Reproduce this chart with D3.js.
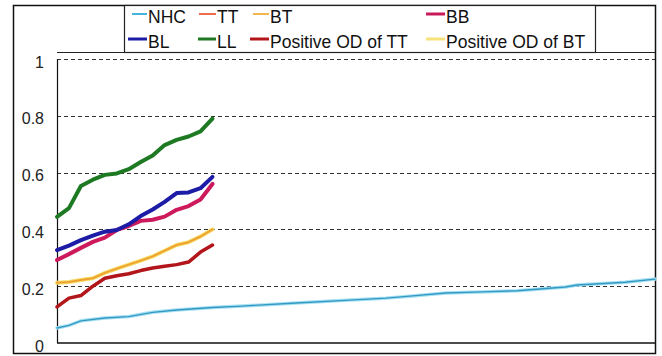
<!DOCTYPE html>
<html>
<head>
    <title></title>
    <script src="https://d3js.org/d3.v7.min.js"></script>
    <style>
        body { margin: 0; background: #fff; }
        svg { font-family: "Liberation Sans", Arial, sans-serif; }
    </style>
</head>
<body>
    <svg id="chart"></svg>
    <script>
        // values
        var tickValues = [0, 0.2, 0.4, 0.6, 0.8, 1];
        var tickLabels = ["0", "0.2", "0.4", "0.6", "0.8", "1"];

        var shortX = [0, 2, 4, 6, 8, 10, 12, 14, 16, 18, 20, 22, 24, 26];
        var llValues = [0.444, 0.475, 0.553, 0.575, 0.592, 0.597, 0.612, 0.637, 0.66, 0.697, 0.715, 0.727, 0.745, 0.79];
        var blValues = [0.327, 0.343, 0.362, 0.378, 0.392, 0.398, 0.418, 0.447, 0.47, 0.497, 0.528, 0.53, 0.545, 0.585];
        var bbValues = [0.292, 0.313, 0.335, 0.356, 0.371, 0.398, 0.412, 0.43, 0.434, 0.445, 0.469, 0.482, 0.505, 0.56];
        var btValues = [0.212, 0.215, 0.222, 0.228, 0.247, 0.262, 0.276, 0.29, 0.305, 0.325, 0.345, 0.355, 0.375, 0.4];
        var ttValues = [0.127, 0.158, 0.167, 0.2, 0.228, 0.237, 0.244, 0.255, 0.264, 0.27, 0.276, 0.285, 0.32, 0.345];

        var nhcX = [0, 2, 4, 8, 12, 16, 20, 26, 31, 40, 49, 55, 59, 65, 71, 77, 85, 87, 95, 100];
        var nhcValues = [0.053, 0.062, 0.078, 0.088, 0.093, 0.108, 0.116, 0.125, 0.13, 0.141, 0.151, 0.158, 0.165, 0.176, 0.18, 0.184, 0.197, 0.204, 0.214, 0.225];

        var width = 662;
        var height = 356;

        var svg = d3.select("#chart")
            .attr("width", width)
            .attr("height", height);

        var x = d3.scaleLinear().domain([0, 100]).range([57, 655]);
        var y = d3.scaleLinear().domain([0, 1]).range([343, 59]);

        // outer frame
        svg.append("rect")
            .attr("x", 13.5).attr("y", 5.5)
            .attr("width", 642).attr("height", 348)
            .attr("fill", "none")
            .attr("stroke", "#111")
            .attr("stroke-width", 1.5);

        // plot top border
        svg.append("line")
            .attr("x1", 57).attr("x2", 655)
            .attr("y1", 52.5).attr("y2", 52.5)
            .attr("stroke", "#222");

        // gridlines
        svg.selectAll(".grid")
            .data(tickValues.slice(1))
            .enter()
            .append("line")
            .attr("class", "grid")
            .attr("x1", 57).attr("x2", 655)
            .attr("y1", function(d) { return Math.round(y(d)) + 0.5; })
            .attr("y2", function(d) { return Math.round(y(d)) + 0.5; })
            .attr("stroke", "#333")
            .attr("stroke-width", 1.2)
            .attr("stroke-dasharray", "4,3");

        // axes lines
        svg.append("line")
            .attr("x1", 57).attr("x2", 655)
            .attr("y1", y(0)).attr("y2", y(0))
            .attr("stroke", "#111").attr("stroke-width", 1.5);
        svg.append("line")
            .attr("x1", 57.5).attr("x2", 57.5)
            .attr("y1", y(1)).attr("y2", y(0))
            .attr("stroke", "#111").attr("stroke-width", 1.2);

        var yAxis = svg.append("g")
            .attr("transform", "translate(44,3)")
            .call(d3.axisLeft(y)
                .tickValues(tickValues)
                .tickSize(0)
                .tickFormat(function(d, i) { return tickLabels[i]; }));
        yAxis.select(".domain").remove();
        yAxis.selectAll("text")
            .attr("x", 0)
            .attr("font-size", 16)
            .attr("font-family", "Liberation Sans, Arial, sans-serif")
            .attr("fill", "#222");

        var line = d3.line()
            .x(function(d) { return x(d[0]); })
            .y(function(d) { return y(d[1]); });

        function pairs(xs, vs) {
            return xs.map(function(v, i) { return [v, vs[i]]; });
        }

        var series = [
            { name: "NHC halo", xs: nhcX, vs: nhcValues, color: "#a6e0f4", w: 3.5 },
            { name: "NHC", xs: nhcX, vs: nhcValues, color: "#3499c2", w: 1.4 },
            { name: "Positive OD of BT", xs: shortX, vs: btValues, color: "#f6df6a", w: 4 },
            { name: "BT", xs: shortX, vs: btValues, color: "#eea232", w: 2 },
            { name: "TT", xs: shortX, vs: ttValues, color: "#e4482c", w: 2 },
            { name: "Positive OD of TT", xs: shortX, vs: ttValues, color: "#b3161a", w: 3.5 },
            { name: "BB", xs: shortX, vs: bbValues, color: "#cc1a5c", w: 4 },
            { name: "BL", xs: shortX, vs: blValues, color: "#1c1ca6", w: 4 },
            { name: "LL", xs: shortX, vs: llValues, color: "#1d7a22", w: 4 }
        ];

        svg.selectAll(".series")
            .data(series)
            .enter()
            .append("path")
            .attr("class", "series")
            .attr("d", function(d) { return line(pairs(d.xs, d.vs)); })
            .attr("fill", "none")
            .attr("stroke", function(d) { return d.color; })
            .attr("stroke-width", function(d) { return d.w; })
            .attr("stroke-linejoin", "round")
            .attr("stroke-linecap", "round");

        // legend
        var legend = svg.append("g");
        legend.append("rect")
            .attr("x", 124.5).attr("y", 5.5)
            .attr("width", 471).attr("height", 47)
            .attr("fill", "#fff")
            .attr("stroke", "#222")
            .attr("stroke-width", 1.2);

        var legendItems = [
            { label: "NHC", color: "#45b4da", w: 2, sx: 132, tx: 148, y: 23 },
            { label: "TT", color: "#ef6a4c", w: 2, sx: 199, tx: 217, y: 23 },
            { label: "BT", color: "#f2b653", w: 2, sx: 253, tx: 270, y: 23 },
            { label: "BB", color: "#c81a5a", w: 3, sx: 426, tx: 446, y: 23 },
            { label: "BL", color: "#1c1ca6", w: 3, sx: 128, tx: 148, y: 48 },
            { label: "LL", color: "#1d7a22", w: 3, sx: 198, tx: 217, y: 48 },
            { label: "Positive OD of TT", color: "#b3161a", w: 3, sx: 250, tx: 270, y: 48 },
            { label: "Positive OD of BT", color: "#f6e27a", w: 3, sx: 426, tx: 446, y: 48 }
        ];

        var li = legend.selectAll(".item")
            .data(legendItems)
            .enter()
            .append("g")
            .attr("class", "item");
        li.append("line")
            .attr("x1", function(d) { return d.sx; })
            .attr("x2", function(d) { return d.tx - 1; })
            .attr("y1", function(d) { return d.y - 9; })
            .attr("y2", function(d) { return d.y - 9; })
            .attr("stroke", function(d) { return d.color; })
            .attr("stroke-width", function(d) { return d.w; });
        li.append("text")
            .attr("x", function(d) { return d.tx; })
            .attr("y", function(d) { return d.y; })
            .attr("font-size", 17.5)
            .attr("fill", "#111")
            .text(function(d) { return d.label; });
    </script>
</body>
</html>
